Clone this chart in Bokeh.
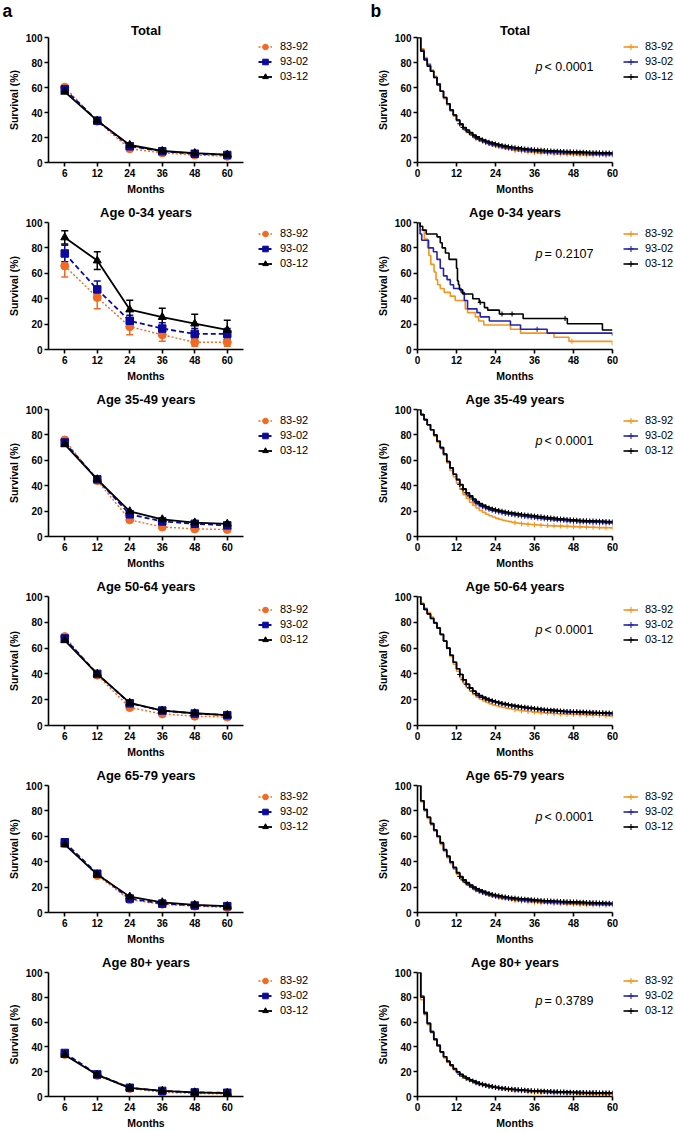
import bisect
from bokeh.plotting import figure
from bokeh.models import (Range1d, FactorRange, Legend, LegendItem, Label,
                          Whisker, TeeHead, ColumnDataSource)
from bokeh.layouts import gridplot, column
from bokeh.embed import file_html
from bokeh.resources import INLINE

FONT = "Liberation Sans"

# ---------------- data: panel a (survival at fixed time points) ----------------
series_names = ["83-92", "93-02", "03-12"]
time_points = ["6", "12", "24", "36", "48", "60"]
panel_titles = ["Total", "Age 0-34 years", "Age 35-49 years",
                "Age 50-64 years", "Age 65-79 years", "Age 80+ years"]
panel_letters = ["a", "b"]

a_total_8392 = [60.2, 33.0, 11.0, 7.7, 6.0, 5.0]
a_total_9302 = [58.5, 33.5, 13.0, 9.0, 7.0, 6.0]
a_total_0312 = [56.5, 33.5, 14.0, 9.2, 7.5, 6.3]

a_0034_8392 = [65.8, 41.0, 18.0, 11.6, 5.7, 5.7]
a_0034_9302 = [75.6, 47.3, 22.6, 16.5, 12.3, 12.3]
a_0034_0312 = [88.2, 70.0, 31.4, 25.5, 20.3, 15.4]
a_0034_8392_lo = [57.0, 32.0, 11.6, 6.4, 2.6, 2.6]
a_0034_8392_hi = [74.0, 50.0, 25.0, 17.0, 10.0, 10.0]
a_0034_9302_lo = [69.0, 41.0, 17.5, 11.5, 8.2, 8.2]
a_0034_9302_hi = [82.0, 54.0, 27.0, 21.0, 16.5, 16.5]
a_0034_0312_lo = [83.0, 63.0, 24.4, 18.0, 14.0, 7.7]
a_0034_0312_hi = [93.6, 77.0, 38.8, 32.4, 27.8, 23.0]

a_3549_8392 = [76.0, 44.0, 13.1, 7.5, 6.0, 5.5]
a_3549_9302 = [74.0, 45.0, 17.5, 11.9, 10.0, 8.8]
a_3549_0312 = [72.5, 45.0, 19.8, 13.5, 11.0, 10.0]

a_5064_8392 = [68.9, 39.0, 13.9, 9.0, 7.2, 6.5]
a_5064_9302 = [67.5, 40.0, 17.2, 11.6, 9.3, 8.0]
a_5064_0312 = [66.0, 40.0, 17.5, 11.5, 9.5, 8.0]

a_6579_8392 = [54.3, 29.2, 10.0, 6.5, 5.0, 4.0]
a_6579_9302 = [55.3, 30.5, 11.0, 7.0, 5.5, 5.0]
a_6579_0312 = [53.5, 30.0, 12.5, 8.0, 6.0, 5.0]

a_80_8392 = [33.9, 17.0, 6.5, 3.5, 2.5, 2.0]
a_80_9302 = [35.1, 17.8, 7.0, 4.5, 3.3, 3.0]
a_80_0312 = [33.5, 17.5, 7.0, 4.5, 3.3, 2.8]

# ---------------- data: panel b (Kaplan-Meier curves) ----------------
months = list(range(61))
km_month_ticks = [0, 12, 24, 36, 48, 60]
y_ticks = [0, 20, 40, 60, 80, 100]
p_values = ["< 0.0001", "= 0.2107", "< 0.0001", "< 0.0001", "< 0.0001", "= 0.3789"]

km_total_8392 = [100, 91, 84, 79, 74, 69, 63, 57, 51, 46, 41, 37, 33, 29.5, 26.5, 24, 22, 20, 18.5, 17.2,
                 16, 15, 14.1, 13.3, 12.6, 12, 11.4, 10.9, 10.4, 10, 9.6, 9.3, 9.0, 8.7, 8.5, 8.3, 8.1, 7.9,
                 7.7, 7.5, 7.3, 7.2, 7.0, 6.9, 6.8, 6.7, 6.6, 6.5, 6.4, 6.3, 6.2, 6.1, 6.0, 5.9, 5.9, 5.8,
                 5.8, 5.7, 5.7, 5.6, 5.6]
km_total_9302 = [100, 90, 83, 78, 73, 68, 63, 57, 52, 47, 42, 38, 34, 30.5, 27.5, 25, 23, 21.2, 19.7, 18.4,
                 17.2, 16.2, 15.3, 14.5, 13.8, 13.2, 12.6, 12.1, 11.6, 11.2, 10.8, 10.5, 10.2, 9.9, 9.7, 9.5,
                 9.3, 9.1, 8.9, 8.7, 8.5, 8.4, 8.2, 8.1, 8.0, 7.9, 7.8, 7.7, 7.6, 7.5, 7.4, 7.3, 7.2, 7.1,
                 7.0, 7.0, 6.9, 6.9, 6.8, 6.8, 6.7]
km_total_0312 = [100, 89, 82, 77, 73, 68, 62, 57, 52, 47, 42, 38, 34, 31, 28, 26, 24, 22, 20.5, 19.2, 18,
                 17, 16.2, 15.5, 14.8, 14.2, 13.6, 13.1, 12.6, 12.2, 11.8, 11.5, 11.2, 10.9, 10.6, 10.4, 10.2,
                 10.0, 9.8, 9.6, 9.4, 9.3, 9.1, 9.0, 8.9, 8.8, 8.7, 8.6, 8.5, 8.4, 8.3, 8.2, 8.1, 8.0, 7.9,
                 7.9, 7.8, 7.7, 7.7, 7.6, 7.6]

km_0034_8392_t = [0, 0.8, 2.1, 3.1, 3.5, 4.1, 5.1, 5.7, 6.2, 7.0, 8.2, 10.1, 11.6, 14.7, 15.4, 17.8, 18.8,
                  20.4, 28.6, 31.7, 42.0, 46.6, 60]
km_0034_8392 = [100, 94, 87, 80, 74, 67, 61, 55, 51, 48, 45, 42, 38.6, 32, 29, 25.7, 22.5, 19.3, 16, 12.9,
                9.7, 6.4, 3.5]
km_0034_9302_t = [0, 0.8, 1.3, 3.4, 4.9, 6.0, 7.0, 8.0, 9.1, 10.1, 11.1, 13.4, 14.4, 15.4, 18.3, 19.3,
                  22.1, 28.6, 31.7, 39.9, 60]
km_0034_9302 = [100, 91, 86, 80, 77, 71, 64, 58, 55, 51, 48, 45, 38.6, 32, 29, 25.7, 22.5, 19.3, 16, 12.9, 11]
km_0034_0312_t = [0, 0.8, 1.6, 2.7, 6.0, 7.0, 7.6, 8.6, 9.7, 12.0, 12.3, 12.6, 12.9, 13.9, 17.0, 19.0,
                  20.6, 21.6, 25.2, 32.5, 46.1, 56.9, 60]
km_0034_0312 = [100, 97, 94, 91, 88.7, 84, 80, 76, 71, 64, 54, 51, 47, 43.7, 40, 37, 33, 31, 28, 24.4,
                20.3, 15.4, 15.4]

km_3549_8392 = [100, 96, 92, 88, 84, 79, 74, 69, 64, 58, 52, 47, 42, 37, 33, 30, 27, 24.5, 22.5, 20.5, 19,
                17.5, 16.3, 15.3, 14.3, 13.5, 12.8, 12.2, 11.7, 11.2, 10.8, 10.4, 10.1, 9.8, 9.6, 9.4, 9.2,
                9.0, 8.8, 8.7, 8.6, 8.5, 8.4, 8.3, 8.2, 8.1, 8.0, 7.9, 7.8, 7.7, 7.6, 7.5, 7.4, 7.3, 7.2,
                7.1, 7.0, 7.0, 6.9, 6.9, 6.8]
km_3549_9302 = [100, 96, 92, 88, 84, 80, 75, 70, 65, 59, 54, 49, 44.5, 40.5, 37, 33.5, 31, 28.5, 26.5, 25,
                23.5, 22.4, 21.4, 20.6, 19.9, 19.3, 18.7, 18.2, 17.7, 17.3, 16.9, 16.5, 16.1, 15.8, 15.5,
                15.2, 14.9, 14.6, 14.3, 14.0, 13.7, 13.5, 13.3, 13.1, 12.9, 12.7, 12.5, 12.3, 12.1, 11.9,
                11.7, 11.6, 11.5, 11.4, 11.3, 11.2, 11.1, 11.0, 10.9, 10.8, 10.8]
km_3549_0312 = [100, 96, 92, 88, 84, 80, 75, 70, 65, 59, 54, 49, 45, 41, 37.5, 34.5, 32, 29.5, 27.5, 26,
                24.5, 23.4, 22.5, 21.7, 21.0, 20.4, 19.8, 19.3, 18.8, 18.4, 18.0, 17.6, 17.3, 17.0, 16.7,
                16.4, 16.1, 15.8, 15.5, 15.2, 14.9, 14.6, 14.3, 14.0, 13.8, 13.6, 13.4, 13.2, 13.0, 12.8,
                12.6, 12.5, 12.4, 12.3, 12.2, 12.1, 12.0, 11.9, 11.8, 11.7, 11.6]

km_5064_8392 = [100, 95, 91, 87.5, 84, 80, 76, 71, 65.5, 59.5, 53.5, 47.5, 42, 37, 33, 29.5, 26.5, 24, 22,
                20.3, 19, 17.8, 16.8, 16, 15.3, 14.6, 14.0, 13.5, 13.0, 12.6, 12.2, 11.8, 11.5, 11.2, 10.9,
                10.6, 10.4, 10.2, 10.0, 9.8, 9.6, 9.4, 9.3, 9.1, 9.0, 8.9, 8.8, 8.7, 8.6, 8.5, 8.4, 8.3,
                8.2, 8.1, 8.0, 7.9, 7.8, 7.7, 7.6, 7.5, 7.5]
km_5064_9302 = [100, 94, 90, 86.5, 83, 79.5, 75.5, 70.5, 65.5, 60, 54.5, 49, 44, 39.5, 35.5, 32, 29, 26.6,
                24.6, 23, 21.7, 20.6, 19.6, 18.8, 18.1, 17.4, 16.8, 16.2, 15.7, 15.2, 14.8, 14.4, 14.0,
                13.7, 13.4, 13.1, 12.8, 12.5, 12.2, 11.9, 11.7, 11.5, 11.3, 11.1, 10.9, 10.7, 10.5, 10.4,
                10.3, 10.2, 10.1, 10.0, 9.9, 9.8, 9.7, 9.6, 9.5, 9.4, 9.3, 9.2, 9.1]
km_5064_0312 = [100, 94, 90, 86.5, 83, 79.5, 75.5, 70.5, 65.5, 60, 54.5, 49, 44, 39.5, 35.5, 32, 29.2, 26.8,
                24.8, 23.2, 21.9, 20.8, 19.9, 19.1, 18.4, 17.7, 17.1, 16.6, 16.1, 15.6, 15.2, 14.8, 14.4,
                14.1, 13.8, 13.5, 13.2, 12.9, 12.6, 12.3, 12.1, 11.9, 11.7, 11.5, 11.3, 11.1, 10.9, 10.8,
                10.7, 10.6, 10.5, 10.4, 10.3, 10.2, 10.1, 10.0, 9.9, 9.8, 9.7, 9.6, 9.5]

km_6579_8392 = [100, 87, 80, 74, 69, 64, 59, 53.5, 48, 43, 38.5, 34, 30, 26.6, 23.9, 21.7, 19.8, 18.2, 16.9,
                15.8, 14.8, 13.9, 13.1, 12.4, 11.8, 11.3, 10.8, 10.4, 10.0, 9.7, 9.4, 9.1, 8.9, 8.7, 8.5,
                8.3, 8.1, 7.9, 7.7, 7.5, 7.4, 7.2, 7.1, 7.0, 6.9, 6.8, 6.7, 6.6, 6.5, 6.4, 6.3, 6.2, 6.1,
                6.0, 5.9, 5.9, 5.8, 5.8, 5.7, 5.7, 5.6]
km_6579_9302 = [100, 88, 81, 75, 70, 65, 60, 54.5, 49, 44, 39.5, 35, 31, 27.6, 24.9, 22.7, 20.8, 19.2, 17.9,
                16.8, 15.8, 14.9, 14.1, 13.4, 12.8, 12.3, 11.8, 11.4, 11.0, 10.7, 10.4, 10.1, 9.9, 9.7, 9.5,
                9.3, 9.1, 8.9, 8.7, 8.5, 8.4, 8.2, 8.1, 8.0, 7.9, 7.8, 7.7, 7.6, 7.5, 7.4, 7.3, 7.2, 7.1,
                7.0, 6.9, 6.9, 6.8, 6.8, 6.7, 6.7, 6.6]
km_6579_0312 = [100, 88, 81, 75, 70, 65, 60, 55, 49.5, 44.5, 40, 35.5, 31.5, 28.3, 25.7, 23.5, 21.6, 20.0,
                18.7, 17.6, 16.6, 15.7, 14.9, 14.2, 13.6, 13.1, 12.6, 12.2, 11.8, 11.5, 11.2, 10.9, 10.7,
                10.5, 10.3, 10.1, 9.9, 9.7, 9.5, 9.3, 9.2, 9.0, 8.9, 8.8, 8.7, 8.6, 8.5, 8.4, 8.3, 8.2, 8.1,
                8.0, 7.9, 7.8, 7.7, 7.6, 7.5, 7.4, 7.3, 7.2, 7.1]

km_80_8392 = [100, 78, 66, 58, 51.5, 45.5, 40.5, 35.5, 31, 27.5, 24.5, 21.5, 19, 17, 15.2, 13.7, 12.4, 11.3,
              10.3, 9.5, 8.8, 8.2, 7.6, 7.1, 6.6, 6.2, 5.8, 5.5, 5.2, 4.9, 4.6, 4.4, 4.2, 4.0, 3.8, 3.6, 3.5,
              3.4, 3.2, 3.1, 3.0, 2.9, 2.8, 2.7, 2.6, 2.5, 2.5, 2.4, 2.4, 2.3, 2.3, 2.2, 2.2, 2.1, 2.1, 2.0,
              2.0, 1.9, 1.9, 1.8, 1.8]
km_80_9302 = [100, 81, 68, 59, 52.5, 46.5, 41.5, 36, 32, 28, 25, 22, 19.6, 17.6, 15.9, 14.4, 13.1, 12.0, 11.0,
              10.2, 9.5, 8.9, 8.3, 7.8, 7.3, 6.9, 6.5, 6.2, 5.9, 5.6, 5.4, 5.2, 5.0, 4.8, 4.6, 4.4, 4.3, 4.2,
              4.1, 4.0, 3.9, 3.8, 3.7, 3.6, 3.5, 3.4, 3.3, 3.2, 3.2, 3.1, 3.1, 3.0, 3.0, 2.9, 2.9, 2.8, 2.8,
              2.7, 2.7, 2.6, 2.6]
km_80_0312 = [100, 80, 67, 59, 52, 46, 41, 36, 32, 28.5, 25.5, 22.5, 20, 18, 16.3, 14.8, 13.5, 12.4, 11.4,
              10.5, 9.8, 9.1, 8.5, 8.0, 7.5, 7.1, 6.7, 6.4, 6.1, 5.8, 5.6, 5.4, 5.2, 5.0, 4.8, 4.6, 4.5, 4.4,
              4.3, 4.2, 4.1, 4.0, 3.9, 3.8, 3.7, 3.6, 3.5, 3.4, 3.3, 3.3, 3.2, 3.2, 3.1, 3.1, 3.0, 3.0, 2.9,
              2.9, 2.8, 2.8, 2.8]

# censoring tick times (months)
cens_8392 = [30, 32, 34, 36, 38, 40, 42, 44, 46, 48, 50, 52, 54, 56, 58, 60]
cens_9302 = [18, 19, 20, 21, 22, 23, 24, 25, 26, 27, 28, 29, 30, 31, 32, 33, 34, 35, 36, 37, 38, 39, 40,
             41, 42, 43, 44, 45, 46, 47, 48, 49, 50, 51, 52, 53, 54, 55, 56, 57, 58, 59, 60]
cens_0312 = [13, 14, 15, 16, 17, 18, 19, 20, 21, 22, 23, 24, 25, 26, 27, 28, 29, 30, 31, 32, 33, 34, 35,
             36, 37, 38, 39, 40, 41, 42, 43, 44, 45, 46, 47, 48, 49, 50, 51, 52, 53, 54, 55, 56, 57, 58, 59,
             60]
cens_0034_8392 = [47.5]
cens_0034_9302 = [36.8]
cens_0034_0312 = [19.3, 26.0, 29.1, 45.4]

# ---------------- assemble ----------------
panels_a = [
    [a_total_8392, a_total_9302, a_total_0312],
    [a_0034_8392, a_0034_9302, a_0034_0312],
    [a_3549_8392, a_3549_9302, a_3549_0312],
    [a_5064_8392, a_5064_9302, a_5064_0312],
    [a_6579_8392, a_6579_9302, a_6579_0312],
    [a_80_8392, a_80_9302, a_80_0312],
]
ci_0034 = [(a_0034_8392_lo, a_0034_8392_hi), (a_0034_9302_lo, a_0034_9302_hi),
           (a_0034_0312_lo, a_0034_0312_hi)]

panels_b = [
    [(months, km_total_8392, cens_8392), (months, km_total_9302, cens_9302), (months, km_total_0312, cens_0312)],
    [(km_0034_8392_t, km_0034_8392, cens_0034_8392), (km_0034_9302_t, km_0034_9302, cens_0034_9302),
     (km_0034_0312_t, km_0034_0312, cens_0034_0312)],
    [(months, km_3549_8392, cens_8392), (months, km_3549_9302, cens_9302), (months, km_3549_0312, cens_0312)],
    [(months, km_5064_8392, cens_8392), (months, km_5064_9302, cens_9302), (months, km_5064_0312, cens_0312)],
    [(months, km_6579_8392, cens_8392), (months, km_6579_9302, cens_9302), (months, km_6579_0312, cens_0312)],
    [(months, km_80_8392, cens_8392), (months, km_80_9302, cens_9302), (months, km_80_0312, cens_0312)],
]

# ---------------- styling / layout ----------------
A_COLORS = ["#F26A21", "#0A0A9E", "#000000"]
A_DASH = ["2 2", "5 3", "solid"]
A_MARKERS = ["circle", "square", "triangle"]
A_MSIZE = [8, 7.5, 8]
A_LW = [1.4, 1.8, 1.8]
B_COLORS = ["#F7941D", "#2323B0", "#000000"]

HEADER_H = 20
ROW_H = [177, 187, 187, 189, 187, 184]
TOP_B = [17, 25, 25, 25, 25, 25]
TITLE_STANDOFF = [0, 5, 5, 5, 5, 5]
FRAME_H = 129
FRAME_W = 195
LEGEND_BOTTOM = 50.5      # legend bottom edge, px below the frame top
WA, LA = 250, 48          # panel a figure (frame 48..243)
WLA = 90                  # legend strip for panel a (250..340)
WB, LB = 280, 77          # panel b figure (frame 417..612)
WLB = 55                  # legend strip for panel b (620..675)


def style(p, title, standoff):
    p.title.text = title
    p.title.align = "center"
    p.title.text_font = FONT
    p.title.text_font_size = "13px"
    p.title.text_font_style = "bold"
    p.title.text_color = "black"
    p.title.standoff = standoff
    p.outline_line_color = None
    p.xgrid.visible = False
    p.ygrid.visible = False
    for ax in list(p.xaxis) + list(p.yaxis):
        ax.axis_line_width = 1.6
        ax.axis_line_color = "black"
        ax.major_tick_line_width = 1.6
        ax.major_tick_line_color = "black"
        ax.major_tick_out = 4
        ax.major_tick_in = 0
        ax.minor_tick_line_color = None
        ax.major_label_text_font = FONT
        ax.major_label_text_font_size = "10px"
        ax.major_label_text_font_style = "bold"
        ax.major_label_text_color = "black"
        ax.major_label_standoff = 2
        ax.axis_label_text_font = FONT
        ax.axis_label_text_font_size = "10.5px"
        ax.axis_label_text_font_style = "bold"
        ax.axis_label_text_color = "black"
        ax.axis_label_standoff = 3
    p.xaxis.axis_label = "Months"
    p.yaxis.axis_label = "Survival (%)"
    p.yaxis.ticker = y_ticks


def blank(width, height):
    f = figure(width=width, height=height, title=None, x_range=Range1d(0, 1), y_range=Range1d(0, 1),
               x_axis_location=None, y_axis_location=None, output_backend="svg", toolbar_location=None,
               min_border=0)
    f.outline_line_color = None
    for g in f.grid:
        g.visible = False
    return f


# legend-key proxies sit outside the strip's (0..1) ranges, so only their legend icons show
KEY_X, KEY_Y = [-5], [-5]


def legend_strip(width, height, specs, vx, gw, standoff):
    f = blank(width, height)
    items = []
    for label, glyphs in specs:
        rs = [fn(f) for fn in glyphs]
        items.append(LegendItem(label=label, renderers=rs))
    # the strip's frame is aligned with the neighbouring panel's frame by the grid
    leg = Legend(items=items, location=(vx, FRAME_H - LEGEND_BOTTOM), orientation="vertical",
                 glyph_width=gw, glyph_height=15, label_height=15, label_standoff=standoff,
                 spacing=0, padding=0, margin=0, border_line_color=None,
                 background_fill_alpha=0, label_text_font=FONT, label_text_font_size="11px",
                 label_text_line_height=1.0, label_text_color="black")
    f.add_layout(leg)
    return f


def a_key(k):
    return [lambda f, k=k: f.line(KEY_X, KEY_Y, line_color=A_COLORS[k], line_width=A_LW[k],
                                  line_dash=A_DASH[k]),
            lambda f, k=k: f.scatter(KEY_X, KEY_Y, marker=A_MARKERS[k], size=A_MSIZE[k],
                                     fill_color=A_COLORS[k], line_color=A_COLORS[k])]


def b_key(k):
    return [lambda f, k=k: f.line(KEY_X, KEY_Y, line_color=B_COLORS[k], line_width=1.6),
            lambda f, k=k: f.scatter(KEY_X, KEY_Y, marker="cross", size=5, line_color=B_COLORS[k],
                                     line_width=1.1)]


# header with the panel letters
head = blank(WA + WLA + WB + WLB, HEADER_H)
for letter, hx in zip(panel_letters, [2, 370]):
    head.add_layout(Label(x=hx, y=0, x_units="screen", y_units="screen", text=letter,
                          text_font=FONT, text_font_size="17.5px", text_font_style="bold",
                          text_baseline="bottom", text_color="black"))

rows = []
for i in range(6):
    H = ROW_H[i]
    bottom = H - TOP_B[i] - FRAME_H
    # ----- panel a -----
    pa = figure(width=WA, height=H, x_range=FactorRange(*time_points), y_range=Range1d(0, 100),
                output_backend="svg", toolbar_location=None,
                min_border_left=LA, min_border_right=WA - LA - FRAME_W,
                min_border_top=TOP_B[i], min_border_bottom=bottom)
    style(pa, panel_titles[i], TITLE_STANDOFF[i])
    for k in range(3):
        c = A_COLORS[k]
        if i == 1:
            lo, hi = ci_0034[k]
            src = ColumnDataSource(dict(x=time_points, lo=lo, hi=hi))
            pa.add_layout(Whisker(base="x", lower="lo", upper="hi", source=src, line_color=c, line_width=1.5,
                                  upper_head=TeeHead(size=7, line_color=c, line_width=1.5),
                                  lower_head=TeeHead(size=7, line_color=c, line_width=1.5)))
        pa.line(time_points, panels_a[i][k], line_color=c, line_width=A_LW[k], line_dash=A_DASH[k])
        pa.scatter(time_points, panels_a[i][k], marker=A_MARKERS[k], size=A_MSIZE[k],
                   fill_color=c, line_color=c)
    la = legend_strip(WLA, H, [(series_names[k], a_key(k)) for k in range(3)], 8, 14, 8)
    # ----- panel b -----
    pb = figure(width=WB, height=H, x_range=Range1d(0, 60), y_range=Range1d(0, 100),
                output_backend="svg", toolbar_location=None,
                min_border_left=LB, min_border_right=WB - LB - FRAME_W,
                min_border_top=TOP_B[i], min_border_bottom=bottom)
    style(pb, panel_titles[i], TITLE_STANDOFF[i])
    pb.xaxis.ticker = km_month_ticks
    for k in range(3):
        c = B_COLORS[k]
        ts, vs, cens = panels_b[i][k]
        n = min(len(ts), len(vs))
        ts, vs = ts[:n], vs[:n]
        pb.step(ts, vs, mode="after", line_color=c, line_width=1.6)
        cy = [vs[max(bisect.bisect_right(ts, t) - 1, 0)] for t in cens]
        pb.scatter(cens, cy, marker="cross", size=5, line_color=c, line_width=1.1)
    lb = legend_strip(WLB, H, [(series_names[k], b_key(k)) for k in range(3)], 3, 15, 7)
    pb.add_layout(Label(x=118, y=FRAME_H - 33, x_units="screen", y_units="screen", text="p",
                        text_font=FONT, text_font_size="12.5px", text_font_style="italic",
                        text_baseline="middle", text_color="black"))
    pb.add_layout(Label(x=127, y=FRAME_H - 33, x_units="screen", y_units="screen", text=p_values[i],
                        text_font=FONT, text_font_size="12.5px", text_baseline="middle", text_color="black"))
    rows.append([pa, la, pb, lb])

grid = gridplot(rows, toolbar_location=None)
page = column(head, grid, spacing=0)
open("out.html", "w").write(file_html(page, INLINE, title="Survival"))
